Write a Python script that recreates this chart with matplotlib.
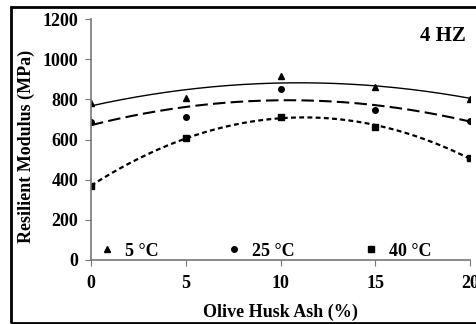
import matplotlib.pyplot as plt
import numpy as np
from matplotlib.patches import Rectangle

plt.rcParams["font.family"] = ["Liberation Serif", "DejaVu Serif"]
plt.rcParams["font.weight"] = "bold"

ash = [0, 5, 10, 15, 20]
mr_5c = [782, 807, 916, 862, 802]
mr_25c = [687, 712, 851, 747, 692]
mr_40c = [368, 607, 712, 662, 508]
labels = ["5 °C", "25 °C", "40 °C"]

W, H = 477, 324
fig = plt.figure(figsize=(W / 100, H / 100), dpi=100)
ax = fig.add_axes([91 / W, 1 - 260 / H, (470 - 91) / W, (260 - 19) / H])

# outer frame around the figure
fig.patches.append(Rectangle((11 / W, 1 / H), 1.2, 1 - 8 / H, transform=fig.transFigure,
                             fill=False, lw=2, ec="black", zorder=0))

series = [
    (mr_5c, "^", "-", None, 1.0),
    (mr_25c, "o", "--", (6, 2.5), 1.5),
    (mr_40c, "s", "--", (2.2, 1.5), 1.6),
]
xs = np.linspace(0, 20, 200)
for (vals, mk, ls, dash, lw), lab in zip(series, labels):
    ax.plot(ash, vals, ls="none", marker=mk, ms=4, color="black", label=lab)
    coef = np.polyfit(ash, vals, 2)
    line, = ax.plot(xs, np.polyval(coef, xs), ls=ls, lw=lw, color="black")
    if dash:
        line.set_dashes(dash)

ax.set_xlim(0, 20)
ax.set_ylim(0, 1200)
ax.set_xticks([0, 5, 10, 15, 20])
ax.set_yticks(range(0, 1201, 200))
for s in ["top", "right"]:
    ax.spines[s].set_visible(False)
for s in ["left", "bottom"]:
    ax.spines[s].set_color("#777777")
    ax.spines[s].set_linewidth(1.2)
ax.tick_params(direction="out", length=4, color="#777777", labelsize=13, pad=5)
ax.tick_params(axis="x", pad=7)
ax.set_xlabel("Olive Husk Ash (%)", fontsize=13, fontweight="bold", labelpad=8)
ax.set_ylabel("Resilient Modulus (MPa)", fontsize=13, fontweight="bold")
ax.yaxis.set_label_coords(-0.148, 0.473)

ax.text(0.99, 0.93, "4 HZ", transform=ax.transAxes, ha="right", va="center",
        fontsize=15, fontweight="bold")

ax.legend(loc="center left", ncol=3, frameon=False, fontsize=13, handlelength=1.0,
          handletextpad=0.5, columnspacing=3.7, borderpad=0, borderaxespad=0,
          bbox_to_anchor=(0.018, 9 / 241))

fig.savefig("out.png", dpi=100)
